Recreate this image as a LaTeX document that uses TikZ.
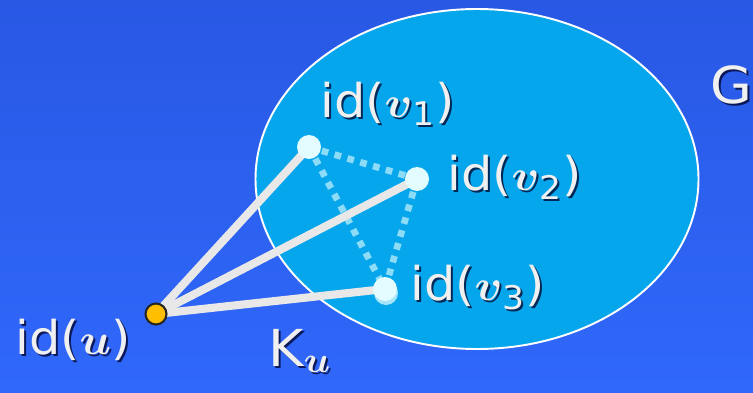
\documentclass[tikz,border=0pt]{standalone}
\usepackage{fontspec}
\usepackage{bm}
\usepackage{graphicx}
\setmainfont{DejaVu Sans}
\definecolor{bgtop}{RGB}{40,88,228}
\definecolor{bgbot}{RGB}{48,104,250}
\definecolor{gfill}{RGB}{6,166,236}
\definecolor{edgegray}{RGB}{232,232,232}
\definecolor{dotcyan}{RGB}{140,220,248}
\definecolor{vfill}{RGB}{226,252,255}
\definecolor{ufill}{RGB}{255,190,0}
\pgfdeclarelayer{bg}
\pgfdeclarelayer{edges}
\pgfsetlayers{bg,edges,main}
\tikzset{
  vert/.style={circle,fill=vfill,inner sep=0pt,minimum size=0.48cm},
  src/.style={circle,fill=ufill,draw=black!85,line width=1.2pt,inner sep=0pt,minimum size=0.42cm},
  link/.style={draw=edgegray,line width=4.6pt},
  hidden link/.style={draw=dotcyan,line width=3.8pt,dash pattern=on 3.8pt off 3.8pt},
  lbl/.style={text=white!94!black,font=\fontsize{26.5}{30}\selectfont,anchor=base west,inner sep=0pt},
  big lbl/.style={lbl,font=\fontsize{29}{34}\selectfont},
}
\newcommand{\shlabel}[4][lbl]{%
  \node[#1,text=black!85!blue,opacity=.75] at ([shift={(2,2)}]#3) {\scalebox{1.06}[1]{#4}};
  \node[#1] (#2) at (#3) {\scalebox{1.06}[1]{#4}};}
\newcommand{\vid}[1]{id($\bm{v}$\textsubscript{#1})}
\begin{document}
\begin{tikzpicture}[x=0.02cm,y=-0.02cm]
\useasboundingbox (0,0) rectangle (753,392);
\begin{pgfonlayer}{bg}
\shade[top color=bgtop,bottom color=bgbot] (0,0) rectangle (753,392);
% the graph G
\draw[white,line width=1.1pt,fill=gfill] (477,179) ellipse [x radius=221.5, y radius=170];
\end{pgfonlayer}
% vertices
\node[src] (u) at (156,314) {};
\node[vert] (v1) at (309,147) {};
\node[vert] (v2) at (417,179) {};
\node[vert] (v3) at (385,289) {};
\begin{pgfonlayer}{edges}
\draw[hidden link] (v1.center) -- (v2.center);
\draw[hidden link] (v1.center) -- (v3.center);
\draw[hidden link] (v2.center) -- (v3.center);
\draw[link] (u.center) -- (v1.center);
\draw[link] (u.center) -- (v2.center);
\draw[link] (u.center) -- (v3.center);
\fill[dotcyan!70!vfill] ([shift={(1,4)}]v3.center) circle [radius=12];
\end{pgfonlayer}
% labels
\shlabel{lv1}{320,117}{\vid{1}}
\shlabel{lv2}{447,190}{\vid{2}}
\shlabel{lv3}{410,300}{\vid{3}}
\shlabel{lu}{15,354}{id($\bm{u}$)}
\shlabel[big lbl]{lk}{268,366}{K$_{\bm{u}}$}
\shlabel[big lbl]{lg}{710,103}{G}
\end{tikzpicture}
\end{document}
